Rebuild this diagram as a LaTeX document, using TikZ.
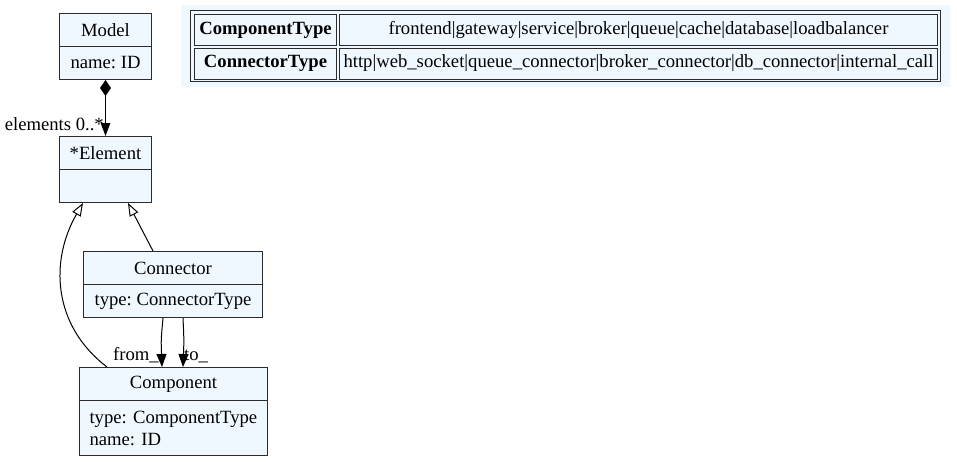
\documentclass[tikz,border=0pt]{standalone}
\usepackage{fontspec}
\setmainfont{Liberation Serif}
\usetikzlibrary{arrows.meta}
\definecolor{boxfill}{HTML}{F0F8FF}
\definecolor{boxline}{HTML}{2B2B2B}
\frenchspacing
\begin{document}
\begin{tikzpicture}[x=1pt,y=-1pt,
  font=\fontsize{18.67}{22}\selectfont\frenchspacing,
  umlbox/.style={draw=boxline, fill=boxfill, line width=1pt, inner sep=0pt, anchor=north west},
  cellbox/.style={draw=boxline, fill=boxfill, line width=1pt, inner sep=0pt, anchor=north west},
  lbl/.style={inner sep=0pt},
  edge/.style={draw=black, line width=1pt},
  compo/.style={edge, {Diamond[length=16pt,width=11pt]}-{Triangle[length=13pt,width=9.5pt]}},
  inh/.style={edge, -{Triangle[open,length=13pt,width=9.5pt,fill=white]}},
  assoc/.style={edge, -{Triangle[length=13pt,width=10pt]}}
]
\useasboundingbox (0,0) rectangle (957,461);

% enum table
\fill[boxfill] (181,5) rectangle (950,87);
\draw[boxline, line width=1.2pt] (190.8,10.8) rectangle (940.2,81.4);
\node[cellbox, minimum width=142pt, minimum height=31pt] (ct) at (194,14) {\bfseries ComponentType};
\node[cellbox, minimum width=598pt, minimum height=31pt] (ctv) at (339,14) {frontend|gateway|service|broker|queue|cache|database|loadbalancer};
\node[cellbox, minimum width=142pt, minimum height=31pt] (nt) at (194,47.5) {\bfseries ConnectorType};
\node[cellbox, minimum width=598pt, minimum height=31pt] (ntv) at (339,47.5) {http|web\_socket|queue\_connector|broker\_connector|db\_connector|internal\_call};

% Model
\node[umlbox, minimum width=92pt, minimum height=33pt] (model) at (59,13) {Model};
\node[umlbox, minimum width=92pt, minimum height=33pt] (modela) at (59,46) {name: ID};

% Element
\node[umlbox, minimum width=92pt, minimum height=33pt] (elem) at (59,136) {*Element};
\node[umlbox, minimum width=92pt, minimum height=33pt] (elema) at (59,169) {};

% Connector
\node[umlbox, minimum width=179pt, minimum height=33pt] (conn) at (83,251) {Connector};
\node[umlbox, minimum width=179pt, minimum height=33pt] (conna) at (83,284) {type: ConnectorType};

% Component
\node[umlbox, minimum width=188pt, minimum height=33pt] (compn) at (79,367) {Component};
\node[umlbox, minimum width=188pt, minimum height=55pt, text width=168pt, inner xsep=10pt, align=left] (compa) at (79,400) {type: ComponentType\\name: ID};

% edges
\draw[compo] (modela.south) -- (elem.north);
\node[lbl, anchor=base east] (elbl) at (104,130) {elements 0..*};

\draw[inh] ([xshift=70pt]conn.north west) -- ([xshift=69pt]elema.south west);
\draw[inh] ([xshift=28pt]compn.north west) .. controls (52,325) and (50,260) .. ([xshift=24pt]elema.south west);

\draw[assoc] ([xshift=80pt]conna.south west) .. controls (161,340) .. ([xshift=83pt]compn.north west);
\draw[assoc] ([xshift=100pt]conna.south west) .. controls (184,340) .. ([xshift=104pt]compn.north west);
\node[lbl, anchor=base east] (flbl) at (159,360) {from\_};
\node[lbl, anchor=base west] (tlbl) at (184,360) {to\_};
\end{tikzpicture}
\end{document}
